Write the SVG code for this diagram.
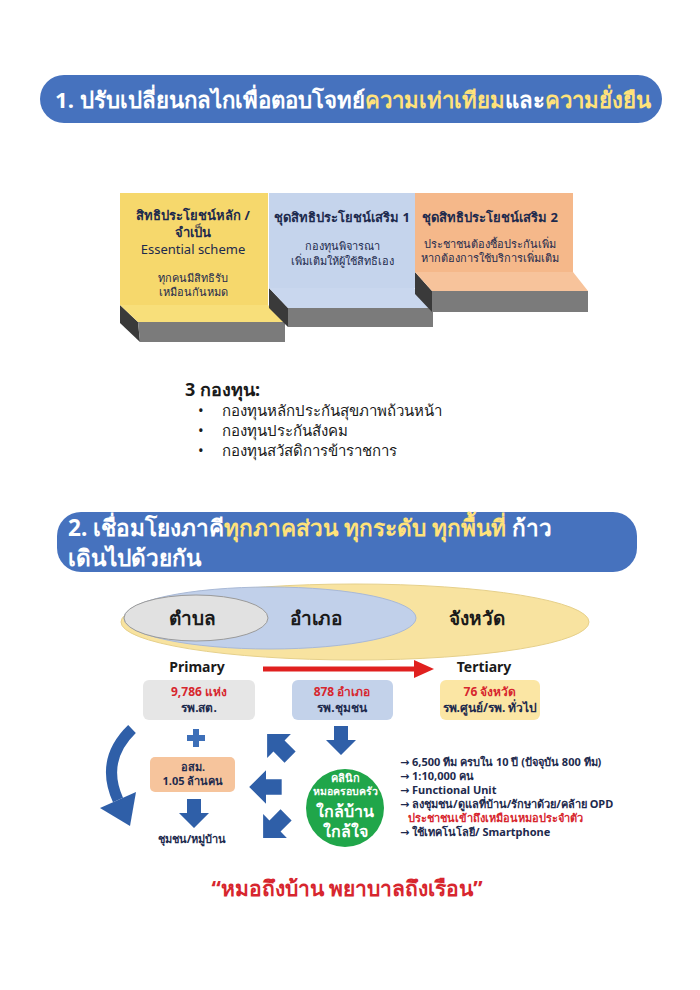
<svg xmlns="http://www.w3.org/2000/svg" width="700" height="990" viewBox="0 0 700 990">
<style>
text{font-family:"Noto Sans","DejaVu Sans",sans-serif}
.ban{fill:#ffffff;font-weight:bold;font-size:22.2px}
.ban2{fill:#ffffff;font-weight:bold;font-size:22.6px}
.hl{fill:#ffe27a}
.bt{fill:#1d2a4d;font-weight:bold;font-size:13px;text-anchor:middle}
.bs{fill:#1d2a4d;font-size:11px;text-anchor:middle}
.lst{fill:#1a1a1a;font-size:15px}
.lvl{fill:#1a1a1a;font-weight:bold;font-size:19px;text-anchor:middle}
.pt{fill:#1a1a1a;font-weight:bold;font-size:14px;text-anchor:middle}
.red{fill:#d7262e;font-weight:bold;font-size:12px;text-anchor:middle}
.nv{fill:#1d2a4d;font-weight:bold;font-size:12px;text-anchor:middle}
.gr{fill:#ffffff;font-weight:bold;text-anchor:middle}
.bl{fill:#1d2a4d;font-weight:bold;font-size:11px}
.ar{fill:#2f5fa8}
.dark{fill:#3a3a3a}
.gray{fill:#7b7b7b}
</style>
<defs>
<path id="barrow" d="M-7,-14 L7,-14 L7,0 L15,0 L0,15 L-15,0 L-7,0 Z"/>
</defs>
<rect width="700" height="990" fill="#ffffff"/>

<g id="banner1">
<rect x="40" y="75" width="622" height="48" rx="24" fill="#4672be"/>
<text x="55" y="108" class="ban">1. ปรับเปลี่ยนกลไกเพื่อตอบโจทย์<tspan class="hl">ความเท่าเทียม</tspan>และ<tspan class="hl">ความยั่งยืน</tspan></text>
</g>

<g id="step-essential">
<polygon class="dark" points="120,305 138,322 140,342 120,323"/>
<polygon class="gray" points="138,322 285,322 285,342 140,342"/>
<polygon points="120,305 268,305 285,322 138,322" fill="#f8df7a"/>
<rect x="120" y="193" width="148" height="112" fill="#f6d86c"/>
<text x="193" y="220" class="bt">สิทธิประโยชน์หลัก /</text>
<text x="193" y="237" class="bt">จำเป็น</text>
<text x="193" y="254" class="bt" style="font-weight:normal">Essential scheme</text>
<text x="193" y="282" class="bs">ทุกคนมีสิทธิรับ</text>
<text x="193" y="296" class="bs">เหมือนกันหมด</text>
</g>

<g id="step-extra1">
<polygon class="dark" points="269,288 288,308 288,327 269,308"/>
<polygon class="gray" points="288,308 433,308 433,327 288,327"/>
<polygon points="269,288 414,288 433,308 288,308" fill="#c9d7ee"/>
<rect x="269" y="193" width="146" height="95" fill="#c5d4ec"/>
<text x="342" y="222" class="bt">ชุดสิทธิประโยชน์เสริม 1</text>
<text x="342" y="250" class="bs">กองทุนพิจารณา</text>
<text x="342" y="265" class="bs">เพิ่มเติมให้ผู้ใช้สิทธิเอง</text>
</g>

<g id="step-extra2">
<polygon class="dark" points="415,272 432,291 432,312 415,294"/>
<polygon class="gray" points="432,291 588,291 588,312 432,312"/>
<polygon points="415,272 573,272 588,291 432,291" fill="#f7c39b"/>
<rect x="415" y="193" width="158" height="79" fill="#f5b88a"/>
<text x="490" y="222" class="bt">ชุดสิทธิประโยชน์เสริม 2</text>
<text x="490" y="248" class="bs">ประชาชนต้องซื้อประกันเพิ่ม</text>
<text x="490" y="262" class="bs">หากต้องการใช้บริการเพิ่มเติม</text>
</g>

<g id="funds">
<text x="185" y="396" fill="#1a1a1a" font-weight="bold" font-size="18">3 กองทุน:</text>
<text x="198" y="416" class="lst">•</text>
<text x="222" y="416" class="lst">กองทุนหลักประกันสุขภาพถ้วนหน้า</text>
<text x="198" y="436" class="lst">•</text>
<text x="222" y="436" class="lst">กองทุนประกันสังคม</text>
<text x="198" y="456" class="lst">•</text>
<text x="222" y="456" class="lst">กองทุนสวัสดิการข้าราชการ</text>
</g>

<g id="banner2">
<rect x="57" y="512" width="580" height="60" rx="24" fill="#4672be"/>
<text x="68" y="536" class="ban2">2. เชื่อมโยงภาคี<tspan class="hl">ทุกภาคส่วน ทุกระดับ ทุกพื้นที่</tspan> ก้าว</text>
<text x="68" y="566" class="ban2">เดินไปด้วยกัน</text>
</g>

<g id="levels">
<ellipse cx="355" cy="622" rx="234" ry="38" fill="#f8e3a0" stroke="#e6d08a" stroke-width="1"/>
<ellipse cx="270" cy="618" rx="146" ry="31" fill="#c1d0ea" stroke="#a9b9d6" stroke-width="1"/>
<ellipse cx="196" cy="618" rx="72" ry="23" fill="#e1e1e1" stroke="#9a9a9a" stroke-width="1"/>
<text x="192" y="625" class="lvl">ตำบล</text>
<text x="316" y="625" class="lvl">อำเภอ</text>
<text x="477" y="625" class="lvl">จังหวัด</text>
</g>

<g id="primary">
<text x="197" y="672" class="pt">Primary</text>
<rect x="143" y="680" width="112" height="40" rx="6" fill="#e6e6e6"/>
<text x="199" y="696" class="red">9,786 แห่ง</text>
<text x="199" y="712" class="nv">รพ.สต.</text>
</g>

<g id="community">
<rect x="292" y="680" width="101" height="40" rx="6" fill="#c3d2ea"/>
<text x="342" y="696" class="red">878 อำเภอ</text>
<text x="342" y="712" class="nv">รพ.ชุมชน</text>
</g>

<g id="tertiary">
<text x="484" y="672" class="pt">Tertiary</text>
<rect x="440" y="680" width="100" height="40" rx="6" fill="#fbe6a4"/>
<text x="490" y="696" class="red">76 จังหวัด</text>
<text x="490" y="712" class="nv">รพ.ศูนย์/รพ. ทั่วไป</text>
</g>

<g id="plus">
<rect x="187" y="735" width="18" height="6" fill="#3d6fb8"/>
<rect x="193" y="729" width="6" height="18" fill="#3d6fb8"/>
</g>

<g id="osm">
<rect x="150" y="757" width="85" height="35" rx="5" fill="#f6c49c"/>
<text x="193" y="771" class="nv" style="font-size:11px">อสม.</text>
<text x="193" y="785" class="nv" style="font-size:11px">1.05 ล้านคน</text>
</g>

<g id="village">
<text x="192" y="843" class="bl" text-anchor="middle">ชุมชน/หมู่บ้าน</text>
</g>

<g id="clinic">
<circle cx="345" cy="808" r="39" fill="#20a64a"/>
<text x="345" y="782" class="gr" font-size="11">คลินิก</text>
<text x="345" y="795" class="gr" font-size="10.5">หมอครอบครัว</text>
<text x="345" y="817" class="gr" font-size="16">ใกล้บ้าน</text>
<text x="345" y="837" class="gr" font-size="16">ใกล้ใจ</text>
</g>

<g id="notes">
<text x="400" y="766" class="bl">→ 6,500 ทีม ครบใน 10 ปี (ปัจจุบัน 800 ทีม)</text>
<text x="400" y="780" class="bl">→ 1:10,000 คน</text>
<text x="400" y="794" class="bl">→ Functional Unit</text>
<text x="400" y="808" class="bl">→ ลงชุมชน/ดูแลที่บ้าน/รักษาด้วย/คล้าย OPD</text>
<text x="408" y="822" class="bl" style="fill:#d7262e">ประชาชนเข้าถึงเหมือนหมอประจำตัว</text>
<text x="400" y="836" class="bl">→ ใช้เทคโนโลยี/ Smartphone</text>
</g>

<g id="connectors">
<line x1="263" y1="669" x2="418" y2="669" stroke="#e0201f" stroke-width="5"/>
<polygon points="414,660 434,669 414,678" fill="#e0201f"/>
<use href="#barrow" class="ar" transform="translate(341,740)"/>
<use href="#barrow" class="ar" transform="translate(194,813)"/>
<use href="#barrow" class="ar" transform="translate(279,746) rotate(135) scale(1.12)"/>
<use href="#barrow" class="ar" transform="translate(266,787) rotate(90) scale(1.12)"/>
<use href="#barrow" class="ar" transform="translate(275,826) rotate(45) scale(1.12)"/>
<path d="M132,729 Q100,760 118,800" fill="none" stroke="#2f5fa8" stroke-width="11"/>
<polygon points="100,808 136,792 130,826" fill="#2f5fa8"/>
</g>

<g id="slogan">
<text x="347" y="896" fill="#d7262e" font-weight="bold" font-size="21" text-anchor="middle">“หมอถึงบ้าน พยาบาลถึงเรือน”</text>
</g>
</svg>
